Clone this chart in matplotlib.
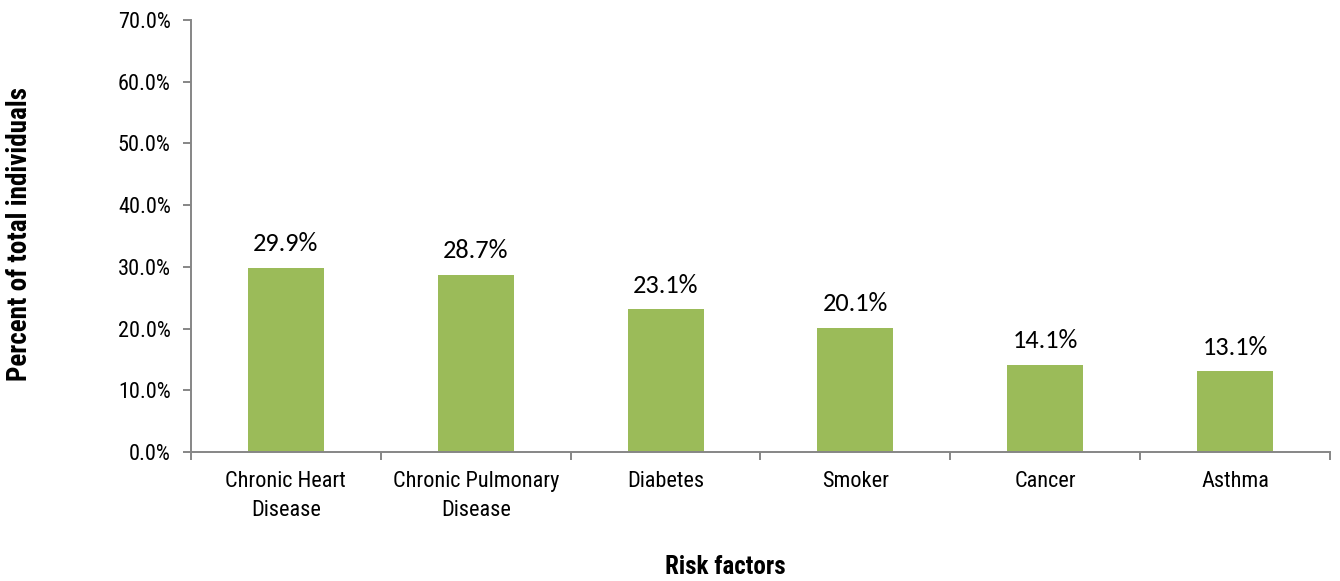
import matplotlib
matplotlib.use("Agg")
import matplotlib.pyplot as plt
import numpy as np

categories = ["Chronic Heart\nDisease", "Chronic Pulmonary\nDisease", "Diabetes",
              "Smoker", "Cancer", "Asthma"]
values = [29.9, 28.7, 23.1, 20.1, 14.1, 13.1]
yticks = [0, 10, 20, 30, 40, 50, 60, 70]

narrow = ["Roboto Condensed", "DejaVu Sans"]
calibri = ["Carlito", "DejaVu Sans"]
bar_color = "#9BBB59"
axis_color = "#868686"

fig = plt.figure(figsize=(13.4, 5.81), dpi=100)
ax = fig.add_axes([0.1425, 0.222, 0.85, 0.7435])

x = np.arange(len(categories))
ax.bar(x, values, width=0.4, color=bar_color, zorder=2)
for xi, v in zip(x, values):
    ax.text(xi, v + 2.7, f"{v:.1f}%", ha="center", va="baseline",
            fontsize=19, family=calibri, color="black")

ax.set_xlim(-0.5, len(categories) - 0.5)
ax.set_ylim(0, 70)
ax.set_yticks(yticks)
ax.set_yticklabels([f"{t:.1f}%" for t in yticks], family=narrow, fontsize=16)

# category labels sit between the tick marks
ax.set_xticks(np.arange(len(categories) + 1) - 0.5)
ax.set_xticklabels([])
ax.set_xticks(x, minor=True)
ax.set_xticklabels(categories, minor=True, family=narrow, fontsize=16, linespacing=1.45)
ax.tick_params(axis="x", which="minor", length=0, pad=14)
ax.tick_params(axis="x", which="major", length=5.5, width=1.4, color=axis_color, direction="out")
ax.tick_params(axis="y", length=5.5, width=1.4, color=axis_color, direction="out", pad=9)

for s in ["top", "right"]:
    ax.spines[s].set_visible(False)
for s in ["left", "bottom"]:
    ax.spines[s].set_color(axis_color)
    ax.spines[s].set_linewidth(1.4)

fig.text(0.541, 1 - 567 / 581, "Risk factors", ha="center", va="center",
         fontsize=18, fontweight="bold", family=narrow)
fig.text(20 / 1340, 1 - 234 / 581, "Percent of total individuals", ha="center", va="center",
         rotation=90, fontsize=19.5, fontweight="bold", family=narrow)

fig.savefig("out.png", dpi=100)
